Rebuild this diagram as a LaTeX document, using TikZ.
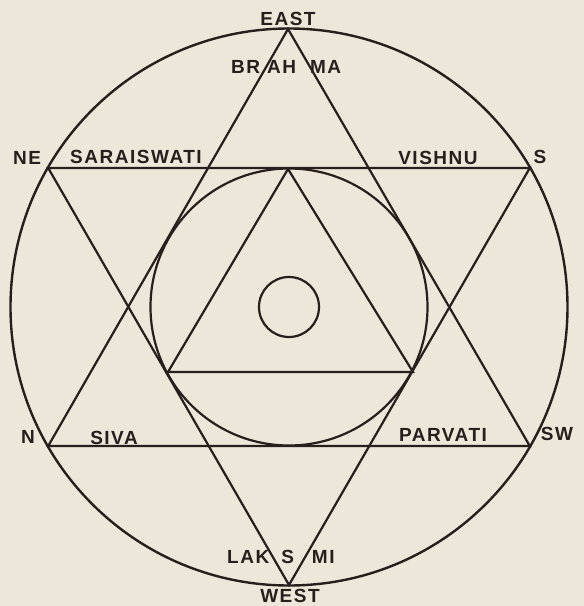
\documentclass[tikz,border=0pt]{standalone}
\usepackage{fontspec}
\newfontfamily\lblfont{Liberation Sans}[LetterSpace=8]
\definecolor{bg}{RGB}{236,231,216}
\definecolor{ink}{RGB}{40,30,30}
\tikzset{
  lbl/.style={font=\lblfont\bfseries\fontsize{19}{20}\selectfont, text=ink, inner sep=0pt},
  hexline/.style={draw=ink, line width=2.2pt, line join=miter},
  ring/.style={draw=ink, line width=2.4pt},
}
\begin{document}
\begin{tikzpicture}[x=1pt,y=-1pt]
\fill[bg] (0,0) rectangle (584,606);
\useasboundingbox (0,0) rectangle (584,606);
% geometry
\coordinate (O) at (289,307);
\coordinate (T) at (288,29);
\coordinate (B) at (289,585);
\coordinate (UL) at (48.2,168);
\coordinate (UR) at (529.8,168);
\coordinate (LL) at (48.2,446);
\coordinate (LR) at (529.8,446);
\coordinate (IT) at (288,169);
\coordinate (IL) at (168,372);
\coordinate (IR) at (413,372);
% circles
\draw[ring] (O) circle[radius=278.5];
\draw[hexline] (O) circle[radius=138.5];
\draw[hexline] (O) circle[radius=30];
% hexagram
\draw[hexline] (T) -- (LL) -- (LR) -- cycle;
\draw[hexline] (B) -- (UL) -- (UR) -- cycle;
% inner triangle
\draw[hexline] (IT) -- (IL) -- (IR) -- cycle;
% labels
\node[lbl] (east) at (288,19) {EAST};
\node[lbl, anchor=west] (brahma) at (231,67) {BR\kern7pt AH\kern14pt MA};
\node[lbl] (ne) at (27,158) {NE};
\node[lbl] (sar) at (136,157) {SARAISWATI};
\node[lbl] (vis) at (438,158) {VISHNU};
\node[lbl] (s) at (540,157) {S};
\node[lbl] (n) at (28,437) {N};
\node[lbl] (siva) at (114,438) {SIVA};
\node[lbl] (par) at (443,435) {PARVATI};
\node[lbl] (sw) at (557,434) {SW};
\node[lbl, anchor=west] (lak) at (227,557) {LAK\kern12pt S\kern18pt MI};
\node[lbl] (west) at (290,596) {WEST};
\end{tikzpicture}
\end{document}
